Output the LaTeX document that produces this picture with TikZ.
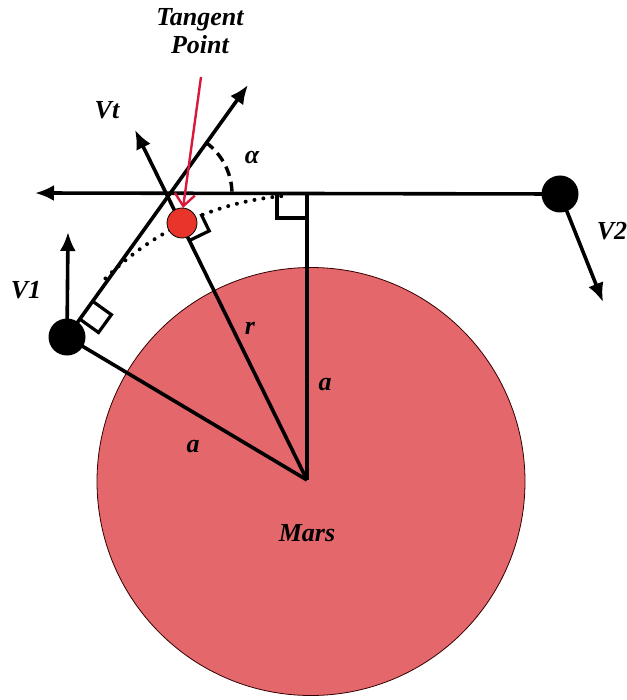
\documentclass[tikz,border=0pt]{standalone}
\usepackage{fontspec}
\setmainfont{Liberation Serif}
\usetikzlibrary{arrows.meta}
\definecolor{marsred}{RGB}{228,103,108}
\definecolor{ballred}{RGB}{232,52,42}
\definecolor{pointer}{RGB}{215,25,60}
\begin{document}
\begin{tikzpicture}[x=1pt,y=-1pt,
  lbl/.style={font=\fontsize{26}{28}\selectfont\bfseries\itshape, inner sep=0pt},
  thickline/.style={line width=3.6pt},
  vec/.style={line width=3.6pt, -{Latex[length=19pt,width=16pt]}},
  rmark/.style={line width=3.2pt},
  ball/.style={circle, fill=black, minimum size=37pt, inner sep=0pt},
  tball/.style={circle, fill=ballred, draw=black, line width=0.8pt, minimum size=30pt, inner sep=0pt}]
\useasboundingbox (0,0) rectangle (626,700);
% Mars
\node[circle, fill=marsred, draw=black!80!red, line width=0.8pt, minimum size=428pt, inner sep=0pt] (mars) at (311,481.5) {};
% key points
\coordinate (O) at (307,480);
\coordinate (V1c) at (67,337);
\coordinate (V2c) at (560,194);
\coordinate (Tc) at (182,223);
\coordinate (X) at (168,194);
\coordinate (P) at (307,193);
\coordinate (Lt) at (35,193);
\coordinate (Tt) at (248,85);
\coordinate (Vtt) at (135,130);
\coordinate (V1t) at (68,232);
\coordinate (V2t) at (603,302);
\coordinate (Rs) at (201,77);
\coordinate (Re) at (183,208);
% dotted arc
\draw[line width=4pt, line cap=round, dash pattern=on 0pt off 9pt]
  plot[domain=225:265, samples=80] ({307+285*cos(\x)},{480+285*sin(\x)});
% lines
\draw[vec] (V2c) -- (Lt);
\draw[thickline] (O) -- (P);
\draw[thickline] (O) -- (V1c);
\draw[vec] (V1c) -- (Tt);
\draw[vec] (O) -- (Vtt);
\draw[vec] (V1c) -- (V1t);
\draw[vec] (V2c) -- (V2t);
% alpha arc
\draw[line width=3.4pt, dash pattern=on 10pt off 6pt]
  plot[domain=-54:0, samples=40] ({168+64*cos(\x)},{194+64*sin(\x)});
% right angle marks
\draw[rmark] (277,193) -- (277,218) -- (307,218);
\draw[rmark] (190.3,240.1) -- (209.2,230.9) -- (200.9,213.8);
\draw[rmark] (79.8,319.1) -- (98.5,332.5) -- (111.4,314.7) -- (92.7,301.3);
% balls
\node[ball] (V1) at (V1c) {};
\node[ball] (V2) at (V2c) {};
\node[tball] (T) at (Tc) {};
% red pointer
\draw[pointer, line width=2.4pt, -{Straight Barb[length=12pt,width=20pt,line width=2.4pt]}] (Rs) -- (Re);
% labels
\node[lbl, align=center] (tp) at (200,31) {Tangent\\Point};
\node[lbl] (vt) at (107,110) {Vt};
\node[lbl] (v1) at (26,290) {V1};
\node[lbl] (v2) at (612,231) {V2};
\node[lbl] (al) at (252,158) {α};
\node[lbl] (r) at (250,328) {r};
\node[lbl] (a1) at (325,385) {a};
\node[lbl] (a2) at (193,447) {a};
\node[lbl] (mt) at (307,533) {Mars};
\end{tikzpicture}
\end{document}
